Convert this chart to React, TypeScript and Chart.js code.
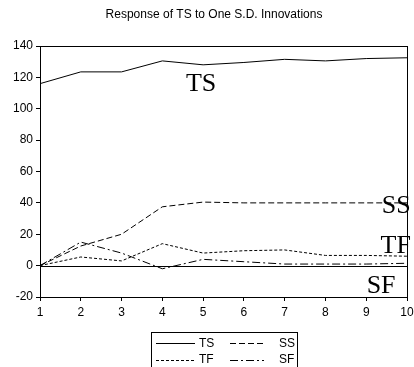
import React, { useEffect, useRef } from "react";
import { Chart, registerables } from "chart.js";

Chart.register(...registerables);

const periods = ["1", "2", "3", "4", "5", "6", "7", "8", "9", "10"];
const tsValues = [116, 123.5, 123.5, 130.5, 128, 129.5, 131.5, 130.5, 132, 132.5];
const ssValues = [0, 12.5, 20, 37.5, 40.5, 40, 40, 40, 40, 40];
const tfValues = [0, 5.5, 3, 14, 8, 9.5, 10, 6.5, 6.5, 6];
const sfValues = [0, 15, 8, -2, 4, 2.5, 1, 1, 1, 1.5];
const seriesNames = ["TS", "SS", "TF", "SF"];
const dashes: number[][] = [[], [6, 3], [3, 2], [8, 3, 2, 3]];
const titleText = "Response of TS to One S.D. Innovations";
// inline labels: [text, x index position, y value at baseline]
const inlineLabels: [string, number, number][] = [
  ["TS", 3.58, 111.5],
  ["SS", 8.38, 33.8],
  ["TF", 8.35, 8.3],
  ["SF", 8.01, -17.2],
];

const overlay = {
  id: "overlay",
  afterDraw(chart: any) {
    const ctx = chart.ctx;
    const area = chart.chartArea;
    const xs = chart.scales.x;
    const ys = chart.scales.y;
    ctx.save();
    ctx.strokeStyle = "#000";
    ctx.lineWidth = 1;
    ctx.setLineDash([]);
    ctx.strokeRect(Math.round(area.left) + 0.5, Math.round(area.top) + 0.5, Math.round(area.right - area.left), Math.round(area.bottom - area.top));
    const y0 = Math.round(ys.getPixelForValue(0)) + 0.5;
    ctx.beginPath();
    ctx.moveTo(area.left, y0);
    ctx.lineTo(area.right, y0);
    ctx.stroke();
    ctx.fillStyle = "#000";
    ctx.font = "12px 'Liberation Sans', Arial, sans-serif";
    ctx.textAlign = "center";
    ctx.textBaseline = "middle";
    ctx.fillText(titleText, 214, 15);
    ctx.font = "26px 'Liberation Serif', 'Times New Roman', serif";
    ctx.textAlign = "left";
    ctx.textBaseline = "alphabetic";
    for (const [t, xi, yv] of inlineLabels) {
      ctx.fillText(t, xs.getPixelForValue(xi), ys.getPixelForValue(yv));
    }
    const bx = 151, by = 332, bw = 146;
    ctx.strokeStyle = "#000";
    ctx.strokeRect(bx + 0.5, by + 0.5, bw, 40);
    ctx.font = "12px 'Liberation Sans', Arial, sans-serif";
    ctx.textBaseline = "middle";
    const cols = [156, 230];
    const rows = [343, 359.5];
    [0, 1, 2, 3].forEach((i) => {
      const c = i % 2;
      const r = Math.floor(i / 2);
      const lx = cols[c];
      const ly = Math.round(rows[r]) + 0.5;
      ctx.setLineDash(dashes[i]);
      ctx.beginPath();
      ctx.moveTo(lx, ly);
      ctx.lineTo(lx + (c === 0 ? 39 : 34), ly);
      ctx.stroke();
      ctx.setLineDash([]);
      ctx.fillText(seriesNames[i], c === 0 ? 199 : 279, rows[r] + 0.5);
    });
    ctx.restore();
  },
};

export default function App() {
  const ref = useRef<HTMLCanvasElement>(null);
  useEffect(() => {
    const all = [tsValues, ssValues, tfValues, sfValues];
    const chart = new Chart(ref.current!, {
      type: "line",
      data: {
        labels: periods,
        datasets: all.map((vals, i) => ({
          label: seriesNames[i],
          data: vals,
          borderColor: "#000",
          borderWidth: 1,
          borderDash: dashes[i],
          pointRadius: 0,
          tension: 0,
          fill: false,
        })),
      },
      options: {
        responsive: false,
        animation: false,
        devicePixelRatio: 1,
        layout: { padding: { top: 46, left: 0, right: 7, bottom: 50 } },
        plugins: { legend: { display: false }, title: { display: false }, tooltip: { enabled: false } },
        scales: {
          x: {
            type: "category",
            offset: false,
            afterFit: (s: any) => { s.height = 20; s.paddingRight = 0; s.paddingLeft = 0; },
            grid: { drawOnChartArea: false, drawTicks: true, tickLength: 4, color: "#000" },
            border: { display: true, color: "#000" },
            ticks: { color: "#000", font: { family: "'Liberation Sans', Arial, sans-serif", size: 12 }, padding: 4, maxRotation: 0, autoSkip: false },
          },
          y: {
            min: -20,
            max: 140,
            afterFit: (s: any) => { s.width = 40; s.paddingTop = 0; s.paddingBottom = 0; },
            grid: { drawOnChartArea: false, drawTicks: true, tickLength: 4, color: "#000" },
            border: { display: true, color: "#000" },
            ticks: { stepSize: 20, color: "#000", font: { family: "'Liberation Sans', Arial, sans-serif", size: 12 }, padding: 3 },
          },
        },
      },
      plugins: [overlay],
    });
    return () => chart.destroy();
  }, []);
  return (
    <div style={{ position: "fixed", left: 0, top: 0, width: 414, height: 367, background: "#fff" }}>
      <canvas ref={ref} width={414} height={367} />
    </div>
  );
}
